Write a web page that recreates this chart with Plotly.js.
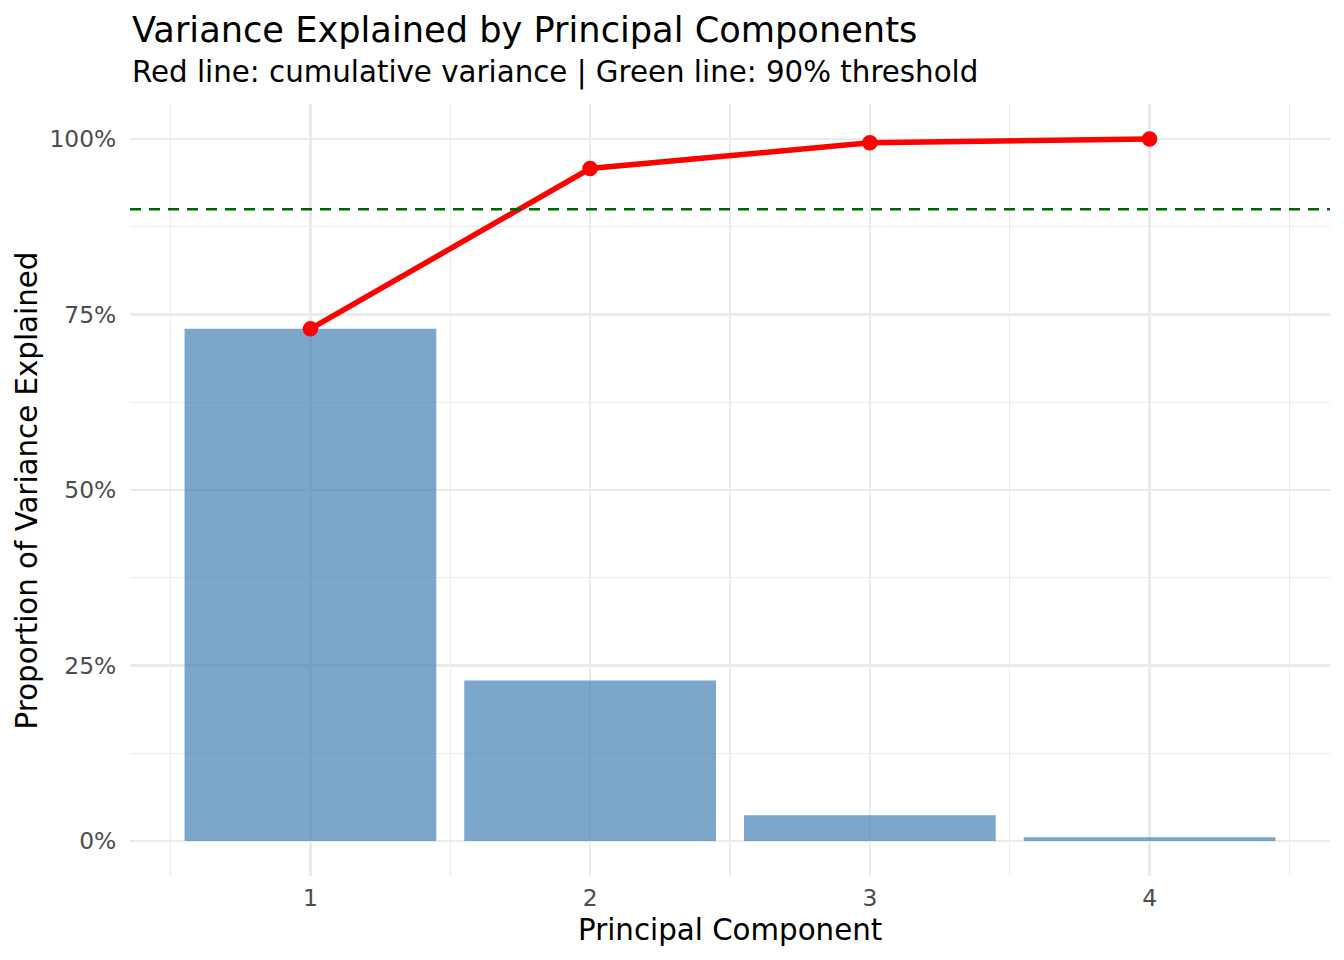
<!DOCTYPE html>
<html>
<head>
<meta charset="utf-8">
<script src="https://cdn.plot.ly/plotly-3.0.1.min.js"></script>
<style>
  html, body { margin: 0; padding: 0; background: #ffffff; }
  #chart { width: 1344px; height: 960px; }
</style>
</head>
<body>
<div id="chart"></div>
<script>
// PCA variance proportions, one value per component
var components = [1, 2, 3, 4];
var varianceProp = [0.7296, 0.2285, 0.0367, 0.0052];
var cumulativeProp = [0.7296, 0.9581, 0.9948, 1.0];
var threshold = 0.9;

var titleText = 'Variance Explained by Principal Components';
var subtitleText = 'Red line: cumulative variance | Green line: 90% threshold';
var xTitle = 'Principal Component';
var yTitle = 'Proportion of Variance Explained';

var font = 'DejaVu Sans, sans-serif';
var gridColor = '#EBEBEB';

var bars = {
  type: 'bar',
  x: components,
  y: varianceProp,
  width: 0.9,
  marker: {color: 'rgba(70,130,180,0.7)', line: {width: 0}},
  hoverinfo: 'x+y'
};

var cumLine = {
  type: 'scatter',
  mode: 'lines+markers',
  x: components,
  y: cumulativeProp,
  line: {color: '#FF0000', width: 5.5},
  marker: {color: '#FF0000', size: 15.5}
};

var layout = {
  width: 1344,
  height: 960,
  margin: {l: 130, r: 14, t: 104, b: 84},
  paper_bgcolor: '#ffffff',
  plot_bgcolor: '#ffffff',
  showlegend: false,
  font: {family: font, color: '#4D4D4D'},
  xaxis: {
    range: [0.355, 4.645],
    tick0: 0,
    dtick: 1,
    showgrid: true,
    gridcolor: gridColor,
    gridwidth: 2.5,
    zeroline: false,
    showline: false,
    ticks: '',
    ticklabelstandoff: 6,
    tickfont: {size: 23.4, color: '#4D4D4D'},
    minor: {dtick: 0.5, tick0: 0, showgrid: true, gridcolor: gridColor, gridwidth: 1.3, ticks: ''}
  },
  yaxis: {
    range: [-0.05, 1.05],
    tick0: 0,
    dtick: 0.25,
    tickformat: '.0%',
    showgrid: true,
    gridcolor: gridColor,
    gridwidth: 2.5,
    zeroline: false,
    showline: false,
    ticks: 'outside',
    ticklen: 8,
    tickcolor: 'rgba(0,0,0,0)',
    tickfont: {size: 23.4, color: '#4D4D4D'},
    minor: {dtick: 0.125, tick0: 0, showgrid: true, gridcolor: gridColor, gridwidth: 1.3, ticks: ''}
  },
  shapes: [{
    type: 'line',
    xref: 'paper', x0: 0, x1: 1,
    yref: 'y', y0: threshold, y1: threshold,
    line: {color: '#006400', width: 2.5, dash: '11px,8px'}
  }],
  annotations: [
    {text: titleText, xref: 'paper', yref: 'paper', x: 0, y: 1.0959,
     xanchor: 'left', yanchor: 'middle', showarrow: false,
     font: {family: font, size: 35.2, color: '#000000'}},
    {text: subtitleText, xref: 'paper', yref: 'paper', x: 0, y: 1.0402,
     xanchor: 'left', yanchor: 'middle', showarrow: false,
     font: {family: font, size: 29.3, color: '#000000'}},
    {text: xTitle, xref: 'paper', yref: 'paper', x: 0.5, y: -0.0699,
     xanchor: 'center', yanchor: 'middle', showarrow: false,
     font: {family: font, size: 29.3, color: '#000000'}},
    {text: yTitle, xref: 'paper', yref: 'paper', x: -0.0855, y: 0.5,
     xanchor: 'center', yanchor: 'middle', textangle: -90, showarrow: false,
     font: {family: font, size: 29.3, color: '#000000'}}
  ]
};

Plotly.newPlot('chart', [bars, cumLine], layout, {displayModeBar: false, staticPlot: true});
</script>
</body>
</html>
